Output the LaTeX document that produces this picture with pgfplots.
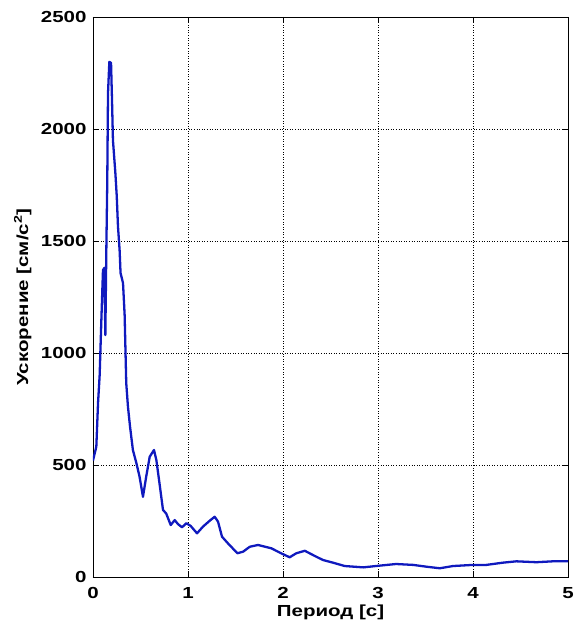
\documentclass[border=0pt]{standalone}
\usepackage{fontspec}
\setmainfont{Liberation Sans}[FakeStretch=1.28]
\usepackage{pgfplots}
\pgfplotsset{compat=1.18}
\definecolor{linecol}{RGB}{15,25,190}
\begin{document}
\fontsize{16bp}{19bp}\selectfont\bfseries
\begin{tikzpicture}
\useasboundingbox (-93bp,-47bp) rectangle (482bp,577bp);
\begin{axis}[
  at={(0,0)}, anchor=south west,
  scale only axis, width=475bp, height=560bp,
  xmin=0, xmax=5, ymin=0, ymax=2500,
  xtick={0,1,2,3,4,5}, ytick={0,500,1000,1500,2000,2500},
  grid=major,
  major grid style={black, line width=0.6pt, dotted},
  axis line style={black, line width=0.8pt},
  tick align=inside, tick style={black, line width=0.8pt},
  major tick length=5bp,
  xtick pos=both, ytick pos=both,
  /pgf/number format/assume math mode=true,
  /pgf/number format/1000 sep={},
  tick label style={font=\fontsize{16bp}{19bp}\selectfont\bfseries},
  label style={font=\fontsize{16bp}{19bp}\selectfont\bfseries},
  xticklabel style={yshift=-5bp},
  yticklabel style={xshift=-1bp},
  xlabel={Период [с]},
  ylabel={Ускорение [см/с\textsuperscript{2}]},
  xlabel style={at={(axis description cs:0.5,-0.064)}, anchor=center},
  ylabel style={at={(axis description cs:-0.148,0.5)}, anchor=center},
]
\addplot[linecol, line width=2.3pt, line join=round] coordinates {
(0,520) (0.035,582) (0.053,776) (0.07,900) (0.088,1147) (0.105,1370)
(0.12,1380) (0.13,1080) (0.14,1450) (0.15,1760) (0.158,2160) (0.172,2300)
(0.19,2295) (0.2,2130) (0.21,1950) (0.236,1800) (0.25,1700) (0.263,1565)
(0.28,1460) (0.29,1357) (0.316,1312) (0.333,1170) (0.35,865) (0.368,760)
(0.39,671) (0.42,567) (0.457,508) (0.49,448) (0.526,358) (0.56,448)
(0.597,537) (0.642,567) (0.667,522) (0.70,418) (0.737,299) (0.77,284)
(0.818,232) (0.86,254) (0.895,236) (0.937,222) (0.983,240) (1.028,228)
(1.095,195) (1.158,225) (1.228,251) (1.281,269) (1.316,247) (1.358,180)
(1.421,150) (1.52,106) (1.58,113) (1.65,135) (1.737,143) (1.878,128)
(1.98,106) (2.07,88) (2.14,106) (2.23,117) (2.316,98) (2.42,76)
(2.526,64) (2.65,49) (2.845,43) (3.0,50) (3.19,58) (3.37,54)
(3.51,46) (3.65,39) (3.79,49) (4.0,54) (4.14,54) (4.316,64)
(4.457,70) (4.667,66) (4.84,70) (5.0,70)
};
\end{axis}
\end{tikzpicture}
\end{document}
